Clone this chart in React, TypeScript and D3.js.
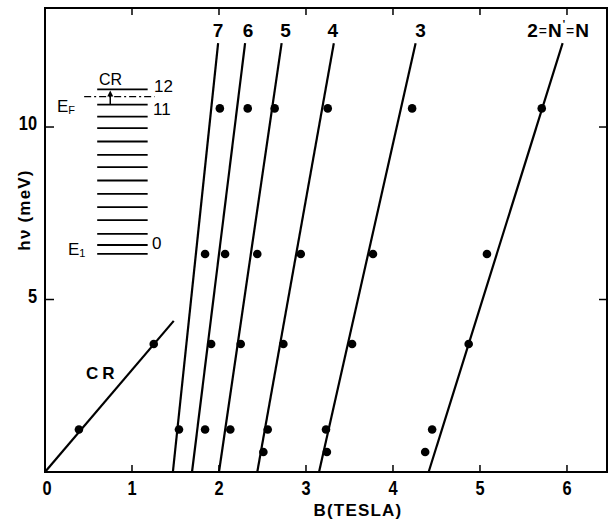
import React from "react";
import * as d3 from "d3";

// Landau level transitions: fitted lines, N = 7 ... 2
const levelLabels = ["7", "6", "5", "4", "3", "2"];
const lineFieldAtZero = [1.47, 1.69, 2.0, 2.44, 3.15, 4.41];
const lineFieldAtTop = [1.99, 2.3, 2.72, 3.32, 4.26, 5.95];
const lineTopEnergy = 12.43;

// measured resonances (one row per laser line)
const photonEnergies = [10.54, 6.32, 3.71, 1.23, 0.58];
const resonanceFields = [
  [2.01, 2.33, 2.64, 3.25, 4.22, 5.71],
  [1.84, 2.07, 2.44, 2.94, 3.77, 5.08],
  [1.91, 2.25, 2.74, 3.53, 4.87],
  [1.54, 1.84, 2.13, 2.56, 3.23, 4.45],
  [2.51, 3.24, 4.37],
];

// cyclotron resonance
const crFields = [0.39, 1.25];
const crEnergies = [1.23, 3.71];
const crLineEnd = { b: 1.48, e: 4.38 };

// inset level scheme (drawn on the energy axis)
const insetLevels = [11.09, 10.65, 10.3, 9.97, 9.58, 9.19, 8.84, 8.45, 8.06, 7.68, 7.3, 6.9, 6.58, 6.32];
const insetFieldRange = [0.6, 1.18];
const fermiEnergy = 10.88;
const fermiFieldRange = [0.45, 1.26];
const crArrowField = 0.75;

const xTicks = [0, 1, 2, 3, 4, 5, 6];
const yTicks = [5, 10];

const W = 609;
const H = 523;
const textFont = "'Liberation Sans', Arial, sans-serif";

// bold digits squeezed horizontally, like the narrow numerals of the original
const Digits: React.FC<{ x: number; y: number; anchor: "middle" | "end"; children: React.ReactNode }> = ({
  x,
  y,
  anchor,
  children,
}) => (
  <text
    transform={`translate(${x},${y}) scale(0.78,1)`}
    textAnchor={anchor}
    fontFamily={textFont}
    fontWeight="bold"
    fontSize={21}
  >
    {children}
  </text>
);

const App: React.FC = () => {
  const x = d3.scaleLinear().domain([0, 6.46]).range([45, 607]);
  const y = d3.scaleLinear().domain([0, 13.45]).range([472, 8]);

  const crLine = d3.line<[number, number]>()
    .x((d) => x(d[0]))
    .y((d) => y(d[1]));

  const ax = x(crArrowField);
  const arrowTop = y(insetLevels[0]);
  const arrowBottom = y(insetLevels[1]);

  return (
    <svg
      width={W}
      height={H}
      style={{ position: "absolute", left: 0, top: 0, background: "#fff" }}
    >
      {/* frame */}
      <rect
        x={x(0)}
        y={y.range()[1]}
        width={x.range()[1] - x(0)}
        height={y(0) - y.range()[1]}
        fill="none"
        stroke="#000"
        strokeWidth={2}
      />

      {/* ticks */}
      {xTicks.filter((t) => t > 0).map((t) => (
        <g key={"xt" + t}>
          <line x1={x(t)} x2={x(t)} y1={y(0)} y2={y(0) - 7} stroke="#000" strokeWidth={1.5} />
          <line x1={x(t)} x2={x(t)} y1={y.range()[1]} y2={y.range()[1] + 7} stroke="#000" strokeWidth={1.5} />
        </g>
      ))}
      {yTicks.map((t) => (
        <g key={"yt" + t}>
          <line x1={x(0)} x2={x(0) + 9} y1={y(t)} y2={y(t)} stroke="#000" strokeWidth={1.5} />
          <line x1={x.range()[1]} x2={x.range()[1] - 8} y1={y(t)} y2={y(t)} stroke="#000" strokeWidth={1.5} />
        </g>
      ))}

      {/* tick labels */}
      {xTicks.map((t) => (
        <Digits key={"xl" + t} x={x(t) + (t === 0 ? 2 : 0)} y={y(0) + 23} anchor="middle">
          {t}
        </Digits>
      ))}
      {yTicks.map((t) => (
        <Digits key={"yl" + t} x={x(0) - 8} y={y(t) + 3} anchor="end">
          {t}
        </Digits>
      ))}

      {/* axis titles */}
      <text
        x={358}
        y={516}
        textAnchor="middle"
        fontFamily={textFont}
        fontWeight="bold"
        fontSize={17}
        letterSpacing={1.2}
      >
        B(TESLA)
      </text>
      <text
        transform={`translate(30,210) rotate(-90)`}
        textAnchor="middle"
        fontFamily={textFont}
        fontWeight="bold"
        fontSize={17}
        letterSpacing={1.2}
      >
        hν (meV)
      </text>

      {/* fitted transition lines */}
      {levelLabels.map((lab, i) => (
        <line
          key={"ln" + lab}
          x1={x(lineFieldAtZero[i])}
          y1={y(0)}
          x2={x(lineFieldAtTop[i])}
          y2={y(lineTopEnergy)}
          stroke="#000"
          strokeWidth={2.2}
        />
      ))}
      {levelLabels.slice(0, 5).map((lab, i) => (
        <text
          key={"lb" + lab}
          x={x(lineFieldAtTop[i]) + [0, 3, 4, -1, 5][i]}
          y={37}
          textAnchor="middle"
          fontFamily={textFont}
          fontWeight="bold"
          fontSize={19}
        >
          {lab}
        </text>
      ))}
      <text
        x={x(lineFieldAtTop[5]) - 4}
        y={37}
        textAnchor="middle"
        fontFamily={textFont}
        fontWeight="bold"
        fontSize={19}
        letterSpacing={1}
      >
        {levelLabels[5]}
        <tspan fontSize={14} fontWeight="normal" dy={-1}>=</tspan>
        <tspan dy={1}>N</tspan>
        <tspan fontSize={10} dy={-9}>'</tspan>
        <tspan fontSize={14} fontWeight="normal" dy={8}>=</tspan>
        <tspan dy={1}>N</tspan>
      </text>

      {/* resonance points */}
      {resonanceFields.map((row, r) =>
        row.map((b, j) => (
          <circle key={`p${r}-${j}`} cx={x(b)} cy={y(photonEnergies[r])} r={4.3} fill="#000" />
        ))
      )}

      {/* cyclotron resonance */}
      <path
        d={crLine([[0, 0], [crLineEnd.b, crLineEnd.e]]) || ""}
        stroke="#000"
        strokeWidth={2.2}
        fill="none"
      />
      {crFields.map((b, i) => (
        <circle key={"cr" + i} cx={x(b)} cy={y(crEnergies[i])} r={4.3} fill="#000" />
      ))}
      <text x={86} y={379} fontFamily={textFont} fontWeight="bold" fontSize={17} letterSpacing={4}>
        CR
      </text>

      {/* inset: level scheme */}
      {insetLevels.map((e, i) => (
        <line
          key={"lv" + i}
          x1={x(insetFieldRange[0])}
          x2={x(insetFieldRange[1])}
          y1={y(e)}
          y2={y(e)}
          stroke="#000"
          strokeWidth={1.8}
        />
      ))}
      <line
        x1={x(fermiFieldRange[0])}
        x2={x(fermiFieldRange[1])}
        y1={y(fermiEnergy)}
        y2={y(fermiEnergy)}
        stroke="#000"
        strokeWidth={1.4}
        strokeDasharray="7 3 2 3"
      />
      <line x1={ax} x2={ax} y1={arrowBottom} y2={arrowTop + 4} stroke="#000" strokeWidth={1.5} />
      <polygon
        points={`${ax},${arrowTop + 1} ${ax - 3},${arrowTop + 7} ${ax + 3},${arrowTop + 7}`}
        fill="#000"
      />
      <text x={99} y={85} fontFamily={textFont} fontSize={16}>
        CR
      </text>
      <text x={154} y={92} fontFamily={textFont} fontSize={17}>
        12
      </text>
      <text x={153} y={115} fontFamily={textFont} fontSize={17}>
        11
      </text>
      <text x={152} y={249} fontFamily={textFont} fontSize={17}>
        0
      </text>
      <text x={57} y={112} fontFamily={textFont} fontSize={17}>
        E<tspan fontSize={11} dy={2}>F</tspan>
      </text>
      <text x={68} y={255} fontFamily={textFont} fontSize={17}>
        E<tspan fontSize={11} dy={2}>1</tspan>
      </text>
    </svg>
  );
};

export default App;
